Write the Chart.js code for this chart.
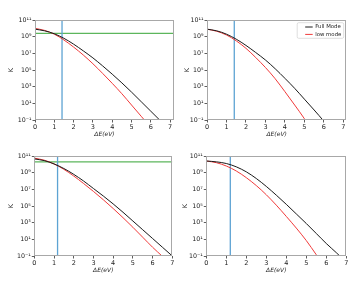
<!DOCTYPE html>
<html><head><meta charset="utf-8">
<script src="https://cdn.jsdelivr.net/npm/chart.js@4.4.0/dist/chart.umd.min.js"></script>
<style>
html,body{margin:0;padding:0;background:#fff;}
body{width:357px;height:294px;position:relative;overflow:hidden;}
.p{position:absolute;}
</style></head><body>
<div class="p" style="left:0;top:0;width:178px;height:147px"><canvas id="c0"></canvas></div>
<div class="p" style="left:178px;top:0;width:179px;height:147px"><canvas id="c1"></canvas></div>
<div class="p" style="left:0;top:147px;width:178px;height:147px"><canvas id="c2"></canvas></div>
<div class="p" style="left:178px;top:147px;width:179px;height:147px"><canvas id="c3"></canvas></div>
<script>
// x positions (ΔE in eV) at which values were read
const xGrid = [0,0.5,1,1.5,2,2.5,3,3.5,4,4.5,5,5.5,6,6.5,7];
// log10(K), per panel
const tlFull = [9.9,9.7,9.35,8.8,8.1,7.3,6.45,5.5,4.5,3.45,2.35,1.2,0.05,-1.1,-2.3];
const tlLow  = [10.0,9.75,9.3,8.6,7.75,6.8,5.75,4.6,3.4,2.15,0.8,-0.55,-1.9,null,null];
const trFull = [9.9,9.7,9.3,8.7,7.95,7.1,6.2,5.15,4.0,2.8,1.5,0.2,-1.15,-2.6,null];
const trLow  = [9.9,9.65,9.2,8.5,7.6,6.5,5.3,3.95,2.4,0.8,-0.85,-2.7,null,null,null];
const blFull = [10.65,10.45,10.05,9.5,8.8,8.0,7.1,6.2,5.25,4.25,3.2,2.15,1.1,0.05,-1.0];
const blLow  = [10.75,10.5,10.05,9.4,8.6,7.7,6.75,5.75,4.7,3.6,2.45,1.25,0.05,-1.05,-2.2];
const brFull = [10.4,10.3,10.1,9.7,9.1,8.3,7.35,6.3,5.2,4.05,2.9,1.7,0.5,-0.6,-1.75];
const brLow  = [10.4,10.2,9.8,9.2,8.4,7.45,6.35,5.1,3.75,2.35,0.85,-0.85,-2.6,null,null];
// vertical (blue) and horizontal (green) reference lines
const vLineX   = [1.4, 1.4, 1.18, 1.2];
const hLineExp = [9.4, null, 10.3, null];
// axes
const xMaxes   = [7.2, 7.15, 7, 7];
const xTicks   = [0,1,2,3,4,5,6,7];
const yTickExp = [-1,1,3,5,7,9,11];
const legendLabels = ['Full Mode','low mode'];

const SUP = {'-':'\u207B','0':'\u2070','1':'\u00B9','2':'\u00B2','3':'\u00B3','4':'\u2074','5':'\u2075','6':'\u2076','7':'\u2077','8':'\u2078','9':'\u2079'};
function sup(n){ return String(n).split('').map(c=>SUP[c]).join(''); }
const FONT = "'DejaVu Sans', sans-serif";

const framePlugin = {
  id:'frame',
  afterDatasetsDraw(chart){
    const {ctx, chartArea:a} = chart;
    ctx.save();
    ctx.strokeStyle = '#a8a8a8';
    ctx.lineWidth = 1;
    ctx.strokeRect(Math.round(a.left)+0.5, Math.round(a.top)+0.5, Math.round(a.right-a.left)-1, Math.round(a.bottom-a.top)-1);
    ctx.restore();
  }
};
const boxLegend = {
  id:'boxLegend',
  afterDraw(chart, args, opts){
    if(!opts.show) return;
    const {ctx, chartArea:a} = chart;
    const w = 46.5, h = 15.6;
    const x = a.right - 2.6 - w, y = a.top + 2.7;
    ctx.save();
    ctx.fillStyle = 'rgba(255,255,255,0.85)';
    ctx.strokeStyle = '#d6d6d6';
    ctx.lineWidth = 0.8;
    ctx.beginPath();
    ctx.roundRect(x, y, w, h, 1.5);
    ctx.fill(); ctx.stroke();
    ctx.font = '5.4px ' + FONT;
    ctx.textBaseline = 'middle';
    ctx.fillStyle = '#222';
    const ds = chart.data.datasets.slice(0,2);
    ds.forEach((d,i)=>{
      const yy = y + 4.3 + i*7.4;
      ctx.strokeStyle = d.borderColor; ctx.lineWidth = 1;
      ctx.beginPath(); ctx.moveTo(x+8, yy); ctx.lineTo(x+15.5, yy); ctx.stroke();
      ctx.fillText(d.label, x+18, yy);
    });
    ctx.restore();
  }
};

const panels = [
  {id:'c0', full:tlFull, low:tlLow, k:0, yW:35,   padT:20, padR:4,    padB:9,  kPad:7.5, legend:false},
  {id:'c1', full:trFull, low:trLow, k:1, yW:29,   padT:20, padR:10.7, padB:9,  kPad:5.5, legend:true},
  {id:'c2', full:blFull, low:blLow, k:2, yW:34.3, padT:9,  padR:5.7,  padB:20, kPad:7.5, legend:false},
  {id:'c3', full:brFull, low:brLow, k:3, yW:28.3, padT:9,  padR:10.7, padB:20, kPad:3.1, legend:false}
];

function pts(arr){ return xGrid.map((x,i)=>({x:x, y: arr[i]===null ? null : Math.pow(10, arr[i])})); }

panels.forEach(p=>{
  const xMax = xMaxes[p.k];
  const datasets = [
    {label:legendLabels[0], data:pts(p.full), borderColor:'#1a1a1a', borderWidth:1, pointRadius:0, cubicInterpolationMode:'monotone', spanGaps:false},
    {label:legendLabels[1], data:pts(p.low),  borderColor:'#f03a3a', borderWidth:1, pointRadius:0, cubicInterpolationMode:'monotone', spanGaps:false},
    {label:'v', data:[{x:vLineX[p.k], y:0.1},{x:vLineX[p.k], y:1e11}], borderColor:'#5da3d3', borderWidth:1.3, pointRadius:0}
  ];
  if(hLineExp[p.k] !== null){
    datasets.push({label:'h', data:[{x:0, y:Math.pow(10,hLineExp[p.k])},{x:xMax, y:Math.pow(10,hLineExp[p.k])}], borderColor:'#5cb65c', borderWidth:1.2, pointRadius:0});
  }
  new Chart(document.getElementById(p.id), {
    type:'line',
    data:{datasets},
    plugins:[framePlugin, boxLegend],
    options:{
      responsive:true, maintainAspectRatio:false, animation:false,
      devicePixelRatio:1,
      layout:{padding:{top:p.padT, right:p.padR, bottom:p.padB, left:0}},
      plugins:{legend:{display:false}, tooltip:{enabled:false}, boxLegend:{show:p.legend}},
      scales:{
        x:{
          type:'linear', min:0, max:xMax,
          afterBuildTicks(s){ s.ticks = xTicks.map(v=>({value:v})); },
          afterFit(s){ s.height = 18; },
          grid:{display:true, drawOnChartArea:false, drawTicks:true, tickLength:2.5, color:'#333', lineWidth:0.8},
          border:{display:false},
          ticks:{padding:1, color:'#222', font:{family:FONT, size:6.5}, maxRotation:0, autoSkip:false, callback:v=>String(v)},
          title:{display:true, text:'ΔE(eV)', color:'#222', padding:{top:0,bottom:0}, font:{family:FONT, size:6, style:'italic'}}
        },
        y:{
          type:'logarithmic', min:0.1, max:1e11,
          afterBuildTicks(s){ s.ticks = yTickExp.map(e=>({value:Math.pow(10,e)})); },
          afterFit(s){ s.width = p.yW; },
          grid:{display:true, drawOnChartArea:false, drawTicks:true, tickLength:2.5, color:'#333', lineWidth:0.8},
          border:{display:false},
          ticks:{padding:1, color:'#222', font:{family:FONT, size:6.3}, autoSkip:false,
            callback:v=>'10'+sup(Math.round(Math.log10(v)))},
          title:{display:true, text:'K', color:'#222', padding:{top:p.kPad,bottom:0}, font:{family:FONT, size:6.5}}
        }
      }
    }
  });
});
</script>
</body></html>
